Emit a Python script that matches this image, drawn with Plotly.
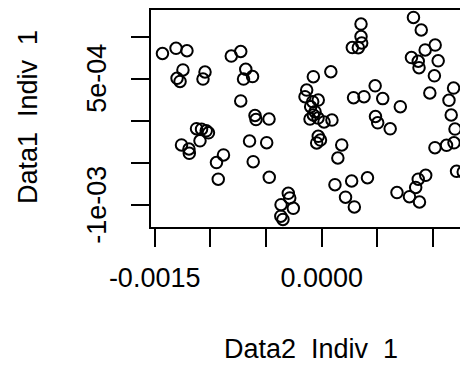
import numpy as np
import plotly.graph_objects as go

# Data values (in units of 1e-5)
x_e5 = [-143.0, -130.8, -121.0, -124.6, -129.9, -127.2, -104.8, -106.6, -81.2, -72.7,
        -68.2, -70.2, -62.1, -72.7, -59.9, -59.0, -47.3, -125.9, -119.2, -118.9,
        -112.4, -107.9, -103.7, -101.7, -109.3, -88.2, -94.5, -92.9, -64.8, -49.4,
        -61.5, -47.1, -30.0, -28.7, -36.5, -25.5, -36.7, -34.8, -7.5, 8.2,
        -13.5, -15.0, -8.1, -3.1, -9.9, -6.0, -7.5, -10.5, -3.3, 2.1,
        9.2, -3.1, -1.1, -4.5, 18.0, 14.5, 11.9, 26.9, 21.4, 29.3,
        41.1, 35.3, 35.3, 35.9, 27.5, 32.9, 28.6, 38.0, 48.0, 54.8,
        70.6, 48.3, 50.3, 61.5, 82.4, 89.4, 101.9, 92.9, 80.6, 86.7,
        87.4, 104.6, 101.2, 97.1, 118.4, 114.3, 116.3, 119.7, 101.7, 112.1,
        118.8, 121.1, 127.1, 67.6, 78.8, 84.4, 86.7, 93.4, 87.8]
y_e5 = [80.0, 86.2, 83.3, 60.4, 50.5, 46.7, 58.0, 49.6, 77.0, 82.4,
        61.2, 49.6, 52.6, 23.5, 6.2, 1.4, 2.0, -28.9, -33.7, -38.8,
        -9.5, -10.1, -12.0, -14.4, -23.9, -40.8, -49.8, -69.6, -24.2, -26.2,
        -48.8, -67.4, -86.4, -92.0, -100.0, -104.3, -113.7, -117.6, 52.4, 58.3,
        36.5, 28.6, 22.6, 24.6, 16.7, 10.7, 6.8, 2.0, 3.2, -1.5,
        0.8, -18.6, -23.0, -26.5, -28.9, -44.4, -76.2, -71.8, -91.1, -102.7,
        -67.9, 115.1, 100.2, 92.5, 87.1, 86.9, 27.4, 28.6, 41.5, 26.3,
        16.7, 5.0, -2.5, -9.6, 122.9, 108.0, 90.1, 84.2, 75.2, 70.8,
        63.1, 71.3, 53.5, 33.0, 38.9, 24.3, 6.8, -9.9, -32.1, -29.3,
        -26.3, -60.2, -61.1, -85.5, -90.5, -79.5, -69.6, -65.0, -96.8]

x_vals = np.array(x_e5) * 1e-5
y_vals = np.array(y_e5) * 1e-5

x_tickvals = [-0.0015, -0.001, -0.0005, 0.0, 0.0005, 0.001]
x_ticktext = ["-0.0015", "", "", "0.0000", "", ""]
y_tickvals = [-0.001, -0.0005, 0.0, 0.0005, 0.001]
y_labelvals = [-0.001, 0.0005]
y_labeltext = ["-1e-03", "5e-04"]

x_title = "Data2\u00a0 Indiv\u00a0 1"
y_title = "Data1\u00a0 Indiv\u00a0 1"

FONT = "Liberation Sans, Arial, Helvetica, sans-serif"
FS = 27

fig = go.Figure()
fig.add_trace(go.Scatter(
    x=x_vals, y=y_vals, mode="markers",
    marker=dict(symbol="circle-open", size=11.5, color="black",
                line=dict(width=2, color="black")),
    showlegend=False, hoverinfo="skip"))

axis_common = dict(showgrid=False, zeroline=False, showline=True,
                   linecolor="black", linewidth=2, ticks="outside",
                   ticklen=18, tickwidth=2, tickcolor="black",
                   tickfont=dict(family=FONT, size=FS, color="black"))

annotations = [
    dict(text=x_title, xref="paper", yref="paper", x=0.5047, y=-0.5622,
         xanchor="center", yanchor="middle", showarrow=False,
         font=dict(family=FONT, size=FS, color="black")),
    dict(text=y_title, xref="paper", yref="paper", x=-0.388, y=0.507,
         xanchor="center", yanchor="middle", showarrow=False, textangle=-90,
         font=dict(family=FONT, size=FS, color="black")),
]
for v, t in zip(y_labelvals, y_labeltext):
    annotations.append(dict(text=t, xref="paper", yref="y", x=-0.1703, y=v,
                            xanchor="center", yanchor="middle", showarrow=False,
                            textangle=-90,
                            font=dict(family=FONT, size=FS, color="black")))

# page body has an 8px margin, so the figure is 8px smaller than the window
fig.update_layout(
    width=460, height=357,
    margin=dict(l=143, r=0, t=2, b=138, pad=0),
    plot_bgcolor="white", paper_bgcolor="white",
    font=dict(family=FONT, size=FS, color="black"),
    xaxis=dict(range=[-1.5329e-3, 1.3138e-3], tickvals=x_tickvals,
               ticktext=x_ticktext, mirror=True, ticklabelstandoff=8,
               **axis_common),
    yaxis=dict(range=[-1.2655e-3, 1.318e-3], tickvals=y_tickvals,
               showticklabels=False, mirror=False, **axis_common),
    annotations=annotations,
)

fig.write_html("out.html")
